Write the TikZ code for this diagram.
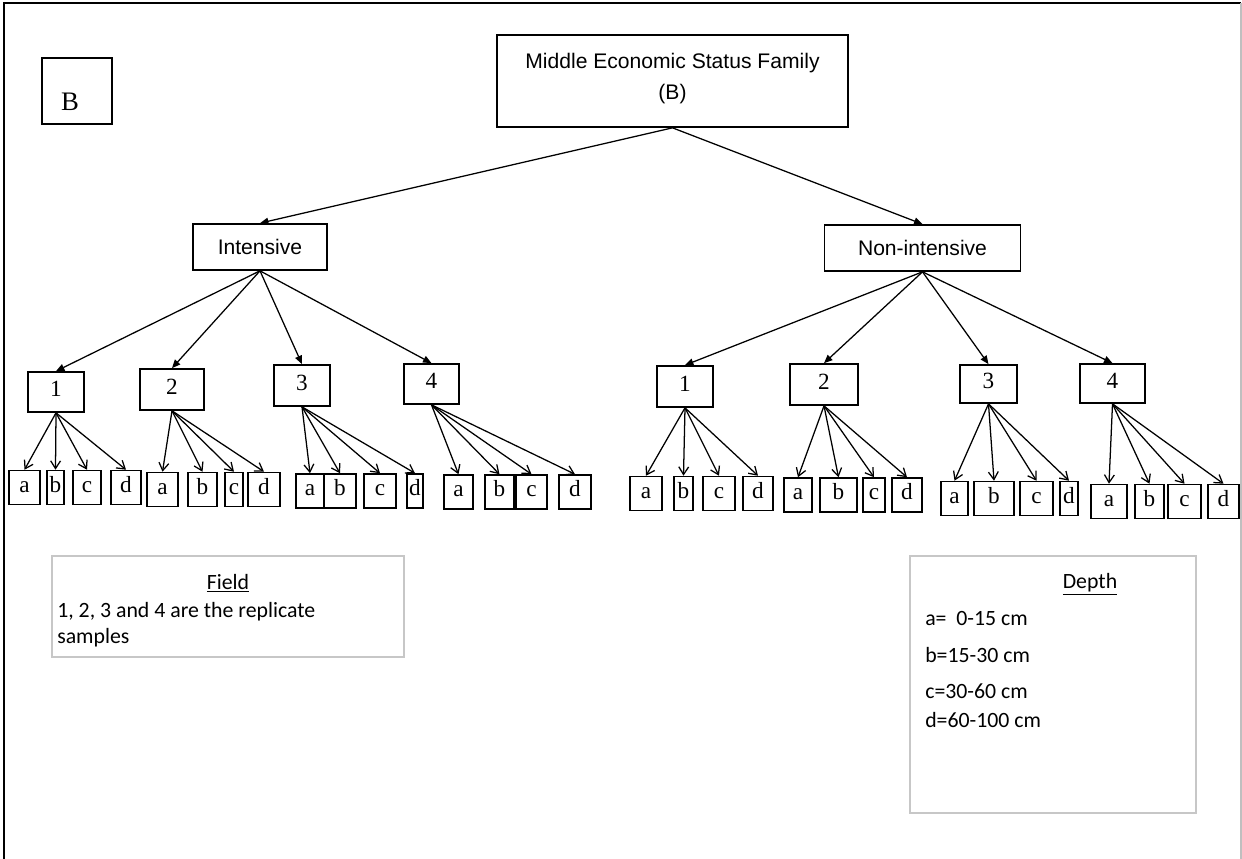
\documentclass[tikz,border=0pt]{standalone}
\usepackage{fontspec}
\setmainfont{Liberation Serif}
\newfontfamily\arialfont{Liberation Sans}
\newfontfamily\calibrifont{Carlito}
\usetikzlibrary{arrows.meta}
\tikzset{
    box/.style={draw, line width=1.2pt, inner sep=0pt},
    head/.style={box, font=\arialfont\fontsize{15}{22}\selectfont, align=center},
    digit/.style={box, text height=0.68em, text depth=0pt, font=\fontsize{16.5}{18}\selectfont},
    leaf/.style={box, line width=1.1pt, minimum height=34*0.025cm, text height=0.7em, text depth=0pt, font=\fontsize{16.5}{18}\selectfont},
    link/.style={-{Triangle[length=6pt,width=5pt]}, line width=0.9pt},
    twig/.style={-{Straight Barb[length=5.5pt,width=7pt]}, line width=0.9pt},
    legend/.style={draw=black!22, line width=1.4pt},
    note/.style={font=\calibrifont\fontsize{15.5}{18}\selectfont, inner sep=0pt},
}

\begin{document}
\begin{tikzpicture}[x=0.025cm, y=-0.025cm]
\useasboundingbox (0,0) rectangle (1242,859);
% outer frame
\draw[line width=1.4pt] (4,859) -- (4,3) -- (1241,3);
\draw[black!25, line width=0.8pt] (1241,3) -- (1241,859);

% panel letter
\node[box, minimum width=70*0.025cm, minimum height=66*0.025cm] (boxB) at (77,91) {};
\node[font=\fontsize{19}{21}\selectfont, inner sep=0pt] (letB) at (70,102) {B};

% tree
\node[head, minimum width=351*0.025cm, minimum height=92*0.025cm] (family) at (672.5,81) {Middle Economic Status Family\\(B)\\[-16pt]\mbox{}};
\node[head, minimum width=134*0.025cm, minimum height=46*0.025cm] (int) at (260,247) {Intensive};
\node[head, minimum width=196*0.025cm, minimum height=46*0.025cm] (nonint) at (922.5,248) {Non-intensive};
\draw[link] (family.south) -- (int.north);
\draw[link] (family.south) -- (nonint.north);

\node[digit, minimum width=56*0.025cm, minimum height=40*0.025cm] (i1) at (56,392) {1};
\node[digit, minimum width=64*0.025cm, minimum height=41*0.025cm] (i2) at (172,389.5) {2};
\node[digit, minimum width=56*0.025cm, minimum height=41*0.025cm] (i3) at (302,385.5) {3};
\node[digit, minimum width=55*0.025cm, minimum height=40*0.025cm] (i4) at (431.5,384) {4};
\node[digit, minimum width=56*0.025cm, minimum height=41*0.025cm] (n1) at (685,386.5) {1};
\node[digit, minimum width=68*0.025cm, minimum height=41*0.025cm] (n2) at (824,384.5) {2};
\node[digit, minimum width=57*0.025cm, minimum height=38*0.025cm] (n3) at (988.5,384) {3};
\node[digit, minimum width=65*0.025cm, minimum height=39*0.025cm] (n4) at (1112.5,383.5) {4};
\foreach \s in {i1,i2,i3,i4}
    \draw[link] (int.south) -- (\s.north);
\foreach \s in {n1,n2,n3,n4}
    \draw[link] (nonint.south) -- (\s.north);

% depth samples
\foreach \n/\x/\y/\w/\l/\p in {
    i1a/24.5/487.5/31/a/i1, i1b/55.5/487.5/17/b/i1, i1c/87/487.5/28/c/i1, i1d/126/487.5/30/d/i1,
    i2a/162.5/489.5/31/a/i2, i2b/202.5/489.5/29/b/i2, i2c/234/489.5/18/c/i2, i2d/264/489.5/32/d/i2,
    i3a/310/491/28/a/i3, i3b/340/491/32/b/i3, i3c/380/491/32/c/i3, i3d/415/491/16/d/i3,
    i4a/458.5/492/29/a/i4, i4b/499.5/492/29/b/i4, i4c/531.5/492/31/c/i4, i4d/575/492/32/d/i4,
    n1a/646/493.5/32/a/n1, n1b/683.5/493.5/19/b/n1, n1c/719/493.5/32/c/n1, n1d/758/493.5/30/d/n1,
    n2a/798/495/28/a/n2, n2b/838.5/495/37/b/n2, n2c/874/495/22/c/n2, n2d/907/495/30/d/n2,
    n3a/954.5/498.5/27/a/n3, n3b/994/498.5/40/b/n3, n3c/1036.5/498.5/33/c/n3, n3d/1069/498.5/18/d/n3,
    n4a/1109/501.5/36/a/n4, n4b/1149.5/501.5/29/b/n4, n4c/1184.5/501.5/33/c/n4, n4d/1223.5/501.5/31/d/n4}
{
    \node[leaf, minimum width=\w*0.025cm] (\n) at (\x,\y) {\l};
    \draw[twig] (\p.south) -- (\n.north);
}

% legends
\draw[legend] (52,556) rectangle (404,657);
\node[note] (fieldT) at (228,583) {\underline{Field}};
\node[note, anchor=west] (fieldA) at (57,612) {1, 2, 3 and 4 are the replicate};
\node[note, anchor=west] (fieldB) at (57,638) {samples};

\draw[legend] (910,556) rectangle (1196,813);
\node[note] (depthT) at (1090,584) {\underline{Depth}};
\node[note, anchor=west] (depthA) at (925,619) {a=\ \ 0-15 cm};
\node[note, anchor=west] (depthB) at (925,655) {b=15-30 cm};
\node[note, anchor=west] (depthC) at (925,691) {c=30-60 cm};
\node[note, anchor=west] (depthD) at (925,720) {d=60-100 cm};
\end{tikzpicture}
\end{document}
